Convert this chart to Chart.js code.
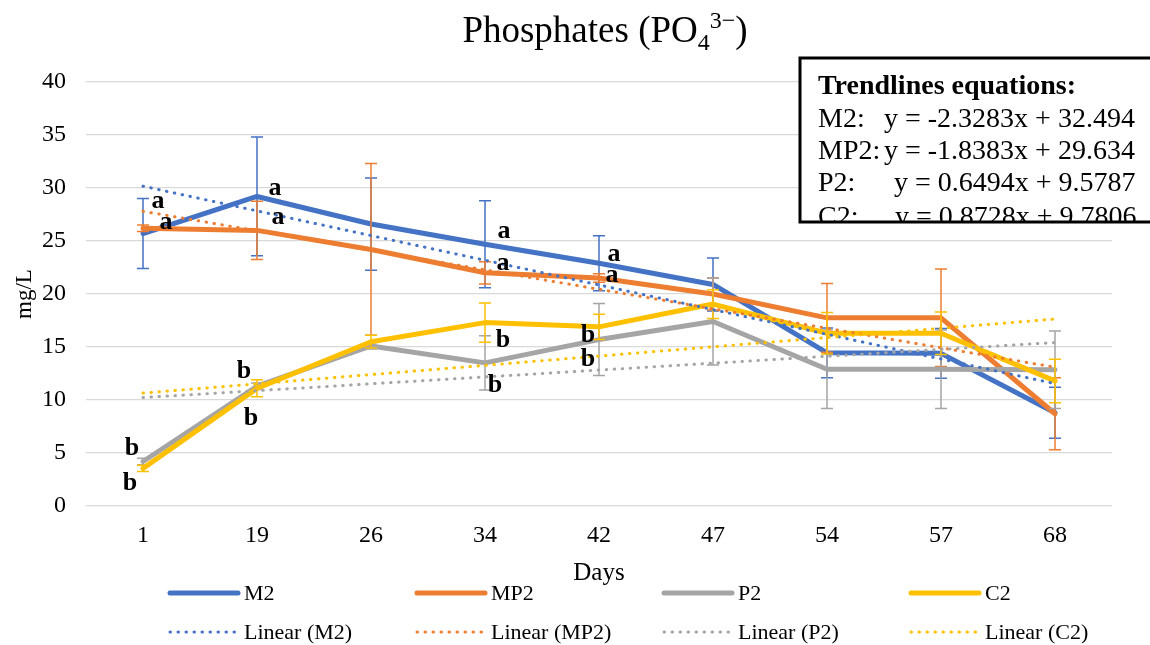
<!DOCTYPE html>
<html>
<head>
<meta charset="utf-8">
<title>Phosphates</title>
<script src="https://cdn.jsdelivr.net/npm/chart.js@4.4.0/dist/chart.umd.min.js"></script>
<style>
  html, body { margin: 0; padding: 0; background: #fff; }
  #wrap { width: 1150px; height: 645px; }
</style>
</head>
<body>
<div id="wrap"><canvas id="grafico" width="1150" height="645"></canvas></div>
<script>
// dias de muestreo
var dias = ['1', '19', '26', '34', '42', '47', '54', '57', '68'];

// valores medios (mg/L)
var m2  = [25.7, 29.2, 26.6, 24.7, 22.9, 20.9, 14.45, 14.4, 8.8];
var mp2 = [26.2, 26.0, 24.2, 22.0, 21.5, 20.0, 17.75, 17.75, 8.7];
var p2  = [4.2, 11.3, 15.1, 13.5, 15.7, 17.4, 12.9, 12.9, 12.85];
var c2  = [3.55, 11.1, 15.5, 17.3, 16.9, 19.05, 16.3, 16.3, 11.8];

// barras de error (+/-)
var m2Err  = [3.3, 5.6, 4.35, 4.1, 2.6, 2.5, 2.35, 2.35, 2.4];
var mp2Err = [0.3, 2.75, 8.1, 1.05, 0.4, 1.5, 3.25, 4.6, 3.4];
var p2Err  = [0.3, 0.3, 0.3, 2.55, 3.4, 4.1, 3.7, 3.7, 3.65];
var c2Err  = [0.3, 0.8, 0.6, 1.85, 1.2, 1.35, 1.95, 2.0, 2.05];

// lineas de tendencia: valor en el primer y en el ultimo dia
var tendM2  = [30.17, 11.54];
var tendMP2 = [27.80, 13.09];
var tendP2  = [10.23, 15.42];
var tendC2  = [10.65, 17.64];

// letras de significancia
var letraDia   = [0, 0, 0, 0, 1, 1, 1, 1, 3, 3, 3, 3, 4, 4, 4, 4];
var letraTexto = ['a', 'a', 'b', 'b', 'a', 'a', 'b', 'b', 'a', 'a', 'b', 'b', 'a', 'a', 'b', 'b'];
var letraNivel = [28.7, 26.8, 5.4, 2.1, 30.0, 27.2, 12.7, 8.3, 25.9, 22.9, 15.6, 11.4, 23.7, 21.8, 16.1, 13.8];

// cuadro de ecuaciones
var ecTitulo = 'Trendlines equations:';
var ecNombre = ['M2:', 'MP2:', 'P2:', 'C2:'];
var ecTexto  = ['y = -2.3283x + 32.494', 'y = -1.8383x + 29.634', 'y = 0.6494x + 9.5787', 'y = 0.8728x + 9.7806'];

var letraDx = [15, 23, -11, -13, 18, 21, -13, -6, 19, 18, 18, 10, 15, 13, -11, -11];
var ecX = [884, 884, 894, 895];
var ecY = [127, 159, 191, 225];

var fuente = 'Liberation Serif';
var azul = '#4472C4', naranja = '#ED7D31', gris = '#A5A5A5', amarillo = '#FFC000';

function tendencia(t) {
    var d = dias.map(function() { return null; });
    d[0] = t[0];
    d[d.length - 1] = t[1];
    return d;
}

function serie(nombre, datos, err, color, orden) {
    return {
        label: nombre, data: datos, errores: err,
        borderColor: color, backgroundColor: color,
        borderWidth: 5, borderCapStyle: 'round', borderJoinStyle: 'round',
        pointRadius: 0, tension: 0, order: orden
    };
}

function lineal(nombre, t, color, orden) {
    return {
        label: 'Linear (' + nombre + ')', data: tendencia(t),
        borderColor: color, backgroundColor: color,
        borderWidth: 3, borderDash: [0.5, 7.5], borderCapStyle: 'round',
        pointRadius: 0, spanGaps: true, order: orden
    };
}

var barrasError = {
    id: 'barrasError',
    afterDatasetDraw: function(chart, args) {
        var ds = chart.data.datasets[args.index];
        if (!ds.errores) return;
        var ctx = chart.ctx, y = chart.scales.y;
        ctx.save();
        ctx.strokeStyle = ds.borderColor;
        ctx.lineWidth = 1.5;
        args.meta.data.forEach(function(pt, i) {
            var arriba = y.getPixelForValue(ds.data[i] + ds.errores[i]);
            var abajo = y.getPixelForValue(ds.data[i] - ds.errores[i]);
            ctx.beginPath();
            ctx.moveTo(pt.x, arriba); ctx.lineTo(pt.x, abajo);
            ctx.moveTo(pt.x - 6, arriba); ctx.lineTo(pt.x + 6, arriba);
            ctx.moveTo(pt.x - 6, abajo); ctx.lineTo(pt.x + 6, abajo);
            ctx.stroke();
        });
        ctx.restore();
    }
};

var extras = {
    id: 'extras',
    afterDatasetsDraw: function(chart) {
        var ctx = chart.ctx, x = chart.scales.x, y = chart.scales.y;
        // letras
        ctx.save();
        ctx.fillStyle = '#000';
        ctx.font = 'bold 26px "' + fuente + '"';
        ctx.textAlign = 'center';
        ctx.textBaseline = 'middle';
        for (var i = 0; i < letraTexto.length; i++) {
            ctx.fillText(letraTexto[i], x.getPixelForValue(letraDia[i]) + letraDx[i], y.getPixelForValue(letraNivel[i]));
        }
        ctx.restore();
    },
    afterDraw: function(chart) {
        var ctx = chart.ctx;
        ctx.save();
        ctx.fillStyle = '#000';
        ctx.textBaseline = 'alphabetic';

        // titulo con subindice y superindice
        var partes = [
            ['Phosphates (PO', 37, 0], ['4', 24, 8], ['3\u2212', 24, -14], [')', 37, 0]
        ];
        var ancho = 0;
        partes.forEach(function(p) { ctx.font = p[1] + 'px "' + fuente + '"'; ancho += ctx.measureText(p[0]).width; });
        var px = 605 - ancho / 2;
        partes.forEach(function(p) {
            ctx.font = p[1] + 'px "' + fuente + '"';
            ctx.fillText(p[0], px, 42 + p[2]);
            px += ctx.measureText(p[0]).width;
        });

        // leyenda
        chart.data.datasets.forEach(function(ds, i) {
            var lx = 170 + (i % 4) * 247;
            var ly = 593 + Math.floor(i / 4) * 39;
            ctx.save();
            ctx.strokeStyle = ds.borderColor;
            ctx.lineWidth = ds.borderWidth;
            ctx.lineCap = 'round';
            if (ds.borderDash) ctx.setLineDash(ds.borderDash);
            ctx.beginPath();
            ctx.moveTo(lx, ly); ctx.lineTo(lx + 68, ly);
            ctx.stroke();
            ctx.restore();
            ctx.font = '22px "' + fuente + '"';
            ctx.textBaseline = 'middle';
            ctx.fillText(ds.label, lx + 74, ly + 1);
        });

        // cuadro de ecuaciones (el texto se corta en el borde inferior)
        var bx = 800, by = 58, bw = 360, bh = 164;
        ctx.fillStyle = '#fff';
        ctx.fillRect(bx, by, bw, bh);
        ctx.save();
        ctx.beginPath();
        ctx.rect(bx, by, bw, bh);
        ctx.clip();
        ctx.fillStyle = '#000';
        ctx.textBaseline = 'alphabetic';
        ctx.font = 'bold 28px "' + fuente + '"';
        ctx.fillText(ecTitulo, 818, 94);
        ctx.font = '28px "' + fuente + '"';
        for (var k = 0; k < ecNombre.length; k++) {
            ctx.fillText(ecNombre[k], 818, ecY[k]);
            ctx.fillText(ecTexto[k], ecX[k], ecY[k]);
        }
        ctx.restore();
        ctx.strokeStyle = '#000';
        ctx.lineWidth = 3;
        ctx.strokeRect(bx, by, bw, bh);
        ctx.restore();
    }
};

var grafico = new Chart(document.getElementById('grafico').getContext('2d'), {
    type: 'line',
    data: {
        labels: dias,
        datasets: [
            serie('M2', m2, m2Err, azul, 8),
            serie('MP2', mp2, mp2Err, naranja, 7),
            serie('P2', p2, p2Err, gris, 6),
            serie('C2', c2, c2Err, amarillo, 5),
            lineal('M2', tendM2, azul, 4),
            lineal('MP2', tendMP2, naranja, 3),
            lineal('P2', tendP2, gris, 2),
            lineal('C2', tendC2, amarillo, 1)
        ]
    },
    options: {
        responsive: false,
        animation: false,
        layout: { padding: { left: 0, right: 38, top: 82, bottom: 57 } },
        plugins: { legend: { display: false }, tooltip: { enabled: false }, title: { display: false } },
        scales: {
            x: {
                offset: true,
                grid: { display: false, drawTicks: false },
                border: { display: false },
                ticks: { font: { family: fuente, size: 24 }, color: '#000', padding: 15, maxRotation: 0, autoSkip: false },
                title: { display: true, text: 'Days', font: { family: fuente, size: 25 }, color: '#000', padding: { top: 0, bottom: 0 } },
                afterFit: function(s) { s.height = 82; }
            },
            y: {
                min: 0, max: 40,
                grid: { color: '#d9d9d9', lineWidth: 1.3, drawTicks: false },
                border: { display: false },
                ticks: { stepSize: 5, font: { family: fuente, size: 24 }, color: '#000', padding: 20 },
                title: { display: true, text: 'mg/L', font: { family: fuente, size: 23 }, color: '#000', padding: { top: 11, bottom: 0 } },
                afterFit: function(s) { s.width = 86; }
            }
        }
    },
    plugins: [barrasError, extras]
});
</script>
</body>
</html>
